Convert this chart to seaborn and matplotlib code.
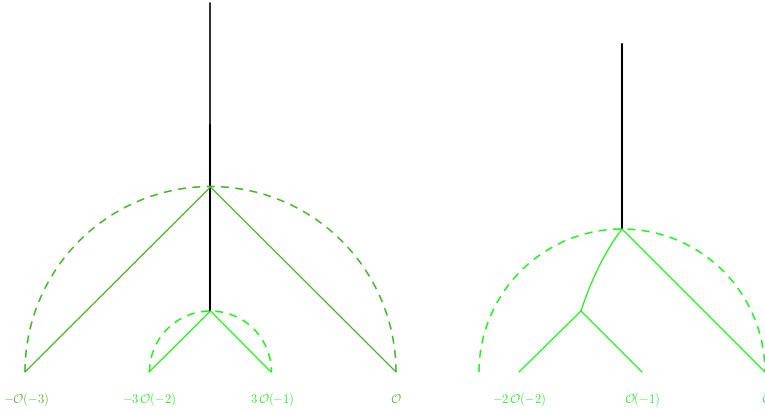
import numpy as np
import pandas as pd
import matplotlib
matplotlib.use("Agg")
import matplotlib.pyplot as plt
import seaborn as sns

sns.set_theme(style="white")
plt.rcParams["mathtext.fontset"] = "cm"

# --- node positions (canvas pixels, y grows downward) ---
# left tree
left_root = (210.5, 187)
left_mid = (210.5, 311)
left_leaves_x = [25, 149, 271, 396]
leaf_y = 372
left_stem_top = 3
left_stem_join = 125

# right tree
right_root = (622, 229)
right_mid = (581, 311)
right_leaves_x = [519, 642, 765]
right_stem_top = 44

# arcs: (center x, center y, radius)
left_big_arc = (210.5, 372, 185.5)
left_small_arc = (210.5, 372, 61)
right_arc = (622, 372, 143)

# labels
left_labels = [r"$-\mathcal{O}(-3)$", r"$-3\,\mathcal{O}(-2)$", r"$3\,\mathcal{O}(-1)$", r"$\mathcal{O}$"]
left_label_x = [26, 149, 272, 396]
right_labels = [r"$-2\,\mathcal{O}(-2)$", r"$\mathcal{O}(-1)$", r"$\mathcal{O}$"]
right_label_x = [519, 642, 767]
label_y = 399

DARK = "#44b52a"
BRIGHT = "#22ee22"
DARK_TXT = "#6cba4a"
BRIGHT_TXT = "#3fe83f"

fig = plt.figure(figsize=(7.65, 4.11), dpi=100)
ax = fig.add_axes([0, 0, 1, 1])
ax.set_xlim(0, 765)
ax.set_ylim(411, 0)
ax.axis("off")


def seg(p, q, color, lw=0.95, **kw):
    df = pd.DataFrame({"x": [p[0], q[0]], "y": [p[1], q[1]]})
    sns.lineplot(data=df, x="x", y="y", sort=False, estimator=None,
                 color=color, lw=lw, ax=ax, **kw)


def arc(c, color):
    cx, cy, r = c
    t = np.linspace(np.pi, 0, 200)
    df = pd.DataFrame({"x": cx + r * np.cos(t), "y": cy - r * np.sin(t)})
    sns.lineplot(data=df, x="x", y="y", sort=False, estimator=None,
                 color=color, lw=1.15, ax=ax, dashes=False,
                 linestyle=(0, (5, 4)))


# left tree
seg((left_root[0], left_stem_top), (left_root[0], left_stem_join), "#111111", lw=1.25)
seg((left_root[0], left_stem_join), left_mid, "black", lw=1.5)
arc(left_big_arc, DARK)
arc(left_small_arc, BRIGHT)
seg(left_root, (left_leaves_x[0], leaf_y), DARK)
seg(left_root, (left_leaves_x[3], leaf_y), DARK)
seg(left_mid, (left_leaves_x[1], leaf_y), BRIGHT)
seg(left_mid, (left_leaves_x[2], leaf_y), BRIGHT)

# right tree
seg((right_root[0], right_stem_top), right_root, "black", lw=1.5)
arc(right_arc, BRIGHT)
seg(right_root, (right_leaves_x[2], leaf_y), BRIGHT)
# slightly bent edge root -> middle node (quadratic bezier)
s = np.linspace(0, 1, 60)
ctrl = (597, 262)
bx = (1 - s) ** 2 * right_root[0] + 2 * (1 - s) * s * ctrl[0] + s ** 2 * right_mid[0]
by = (1 - s) ** 2 * right_root[1] + 2 * (1 - s) * s * ctrl[1] + s ** 2 * right_mid[1]
sns.lineplot(x=bx, y=by, sort=False, estimator=None, color=BRIGHT, lw=0.95, ax=ax)
seg(right_mid, (right_leaves_x[0], leaf_y), BRIGHT)
seg(right_mid, (right_leaves_x[1], leaf_y), BRIGHT)

# labels
for i, (lab, x) in enumerate(zip(left_labels, left_label_x)):
    col = DARK_TXT if i in (0, 3) else BRIGHT_TXT
    ax.text(x, label_y, lab, color=col, fontsize=9, ha="center", va="center")
for lab, x in zip(right_labels, right_label_x):
    ax.text(x, label_y, lab, color=BRIGHT_TXT, fontsize=9, ha="center", va="center")

fig.savefig("out.png", dpi=100)
